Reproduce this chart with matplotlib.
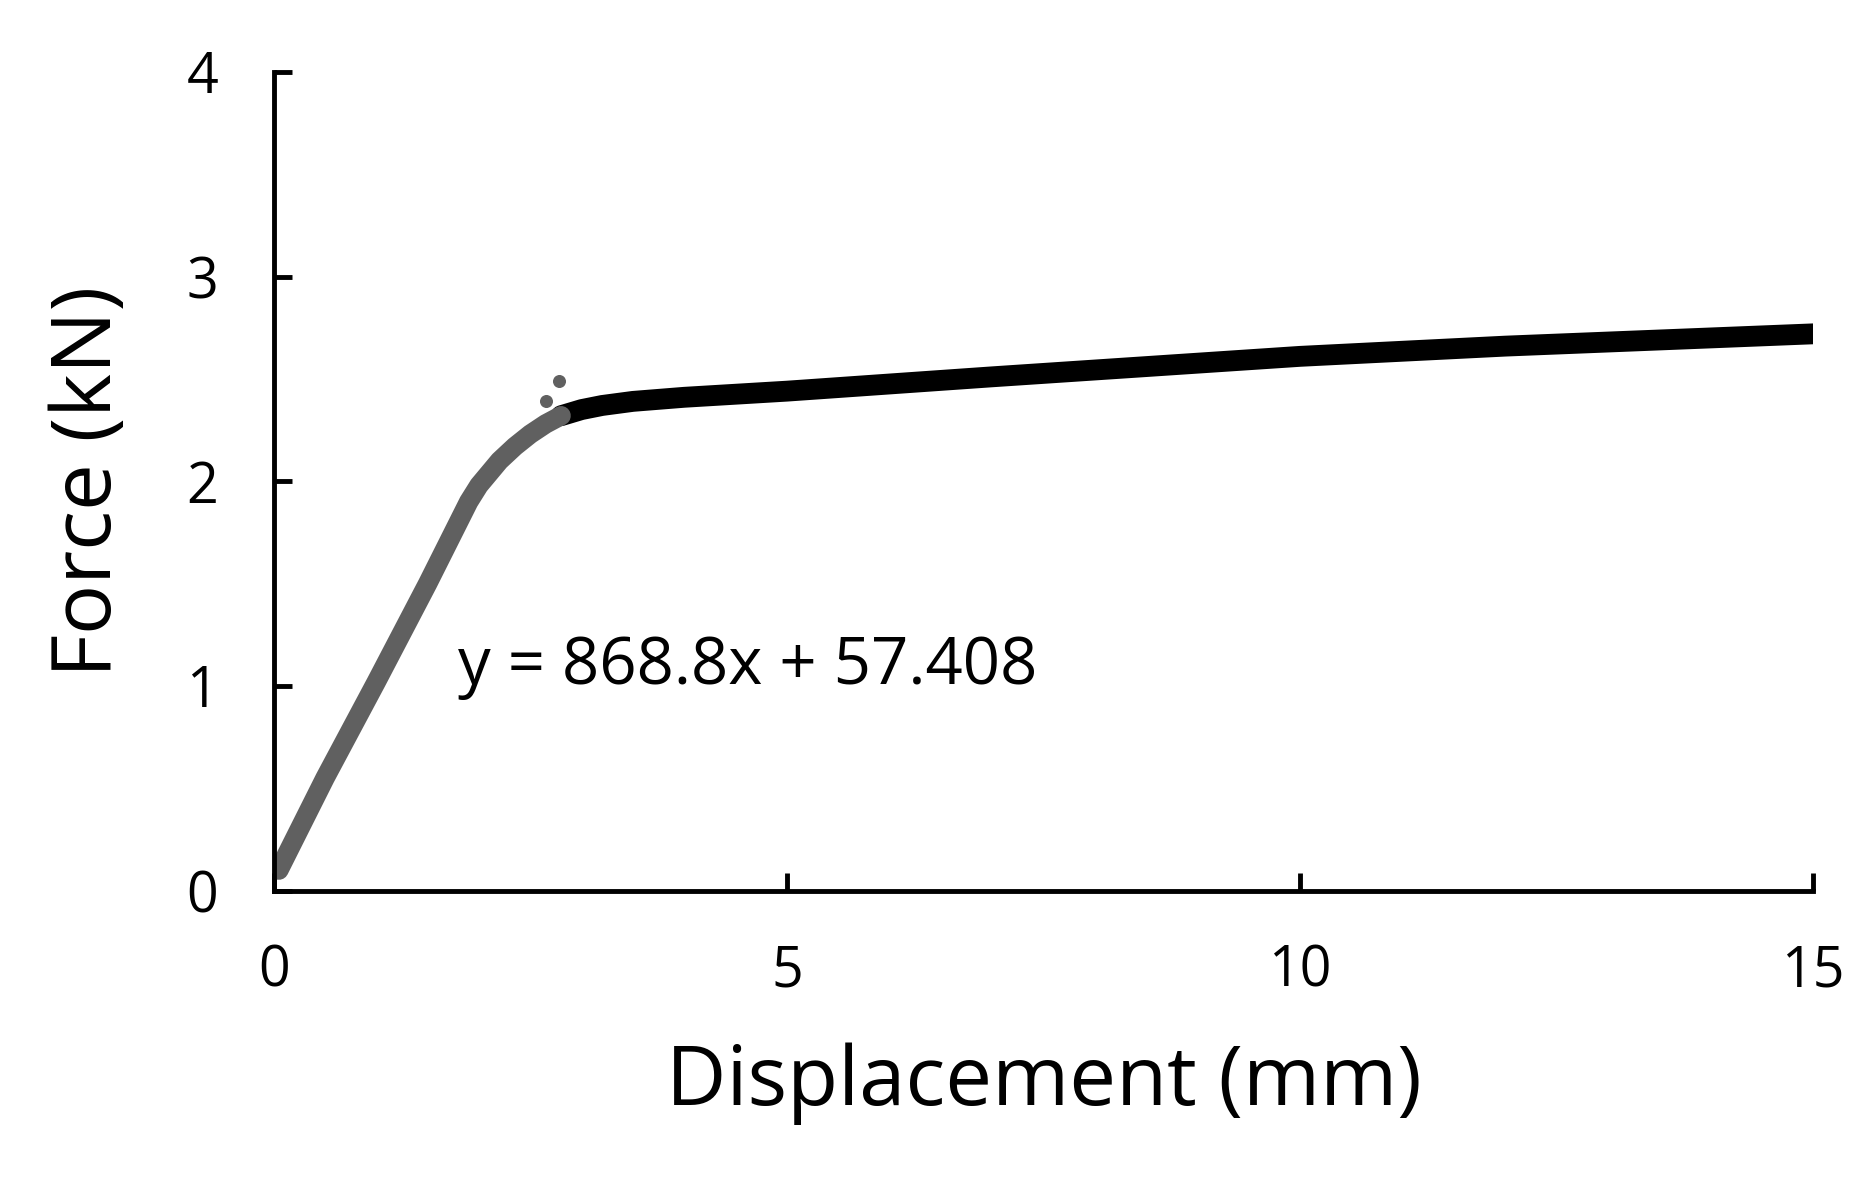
import matplotlib
matplotlib.use("Agg")
import matplotlib.pyplot as plt

plt.rcParams['font.family'] = ['Open Sans', 'DejaVu Sans']

# Elastic (grey) portion
elastic_x = [0.05, 0.5, 1.0, 1.5, 1.9, 2.0, 2.1, 2.2, 2.35, 2.5, 2.65, 2.8]
elastic_y = [0.10, 0.55, 1.02, 1.50, 1.90, 1.98, 2.04, 2.10, 2.17, 2.23, 2.28, 2.32]
# Plastic (black) portion
plastic_x = [2.8, 3.0, 3.2, 3.5, 4.0, 5.0, 7.0, 10.0, 12.0, 15.0]
plastic_y = [2.32, 2.35, 2.37, 2.39, 2.41, 2.44, 2.51, 2.61, 2.66, 2.72]
# stray points
stray_x = [2.65, 2.78]
stray_y = [2.39, 2.49]

xticks = [0, 5, 10, 15]
yticks = [0, 1, 2, 3, 4]

fig = plt.figure(figsize=(18.75, 11.78), dpi=100)
ax = fig.add_axes([0.146, 0.244, 0.821, 0.695])
ax.plot(plastic_x, plastic_y, color='black', lw=15, solid_capstyle='round', solid_joinstyle='round')
ax.plot(elastic_x, elastic_y, color='#606060', lw=14, solid_capstyle='round', solid_joinstyle='round')
ax.scatter(stray_x, stray_y, color='#606060', s=70, zorder=3)

ax.set_xlim(0, 15)
ax.set_ylim(0, 4)
ax.set_xticks(xticks)
ax.set_yticks(yticks)
for s in ['top', 'right']:
    ax.spines[s].set_visible(False)
for s in ['left', 'bottom']:
    ax.spines[s].set_linewidth(3.5)
ax.tick_params(direction='in', length=13, width=3.5, labelsize=40)
ax.tick_params(axis='x', pad=38)
ax.tick_params(axis='y', pad=40)
ax.set_xlabel('Displacement (mm)', fontsize=60, labelpad=30)
ax.set_ylabel('Force (kN)', fontsize=60, labelpad=40)
ax.text(1.8, 1.09, 'y = 868.8x + 57.408', fontsize=47, ha='left', va='center')

fig.savefig('out.png', dpi=100, facecolor='white')
